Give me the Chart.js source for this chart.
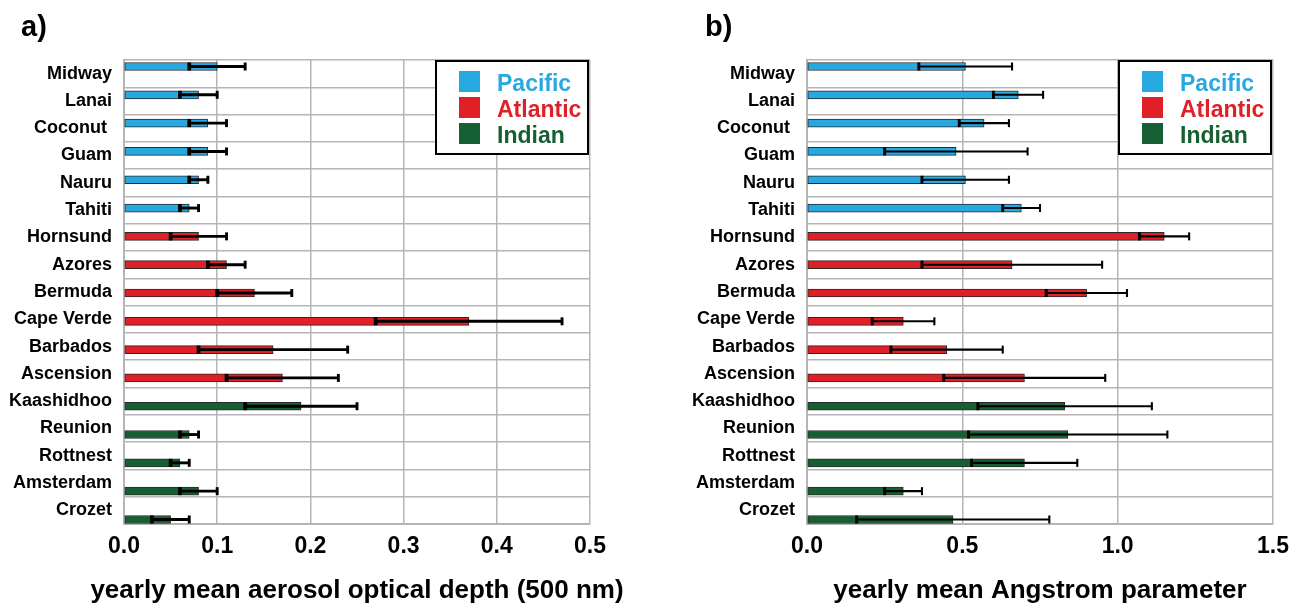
<!DOCTYPE html>
<html>
<head>
<meta charset="utf-8">
<script src="https://cdn.jsdelivr.net/npm/chart.js@4/dist/chart.umd.min.js"></script>
<style>
  html, body { margin: 0; padding: 0; background: #fff; }
  #wrap { position: relative; width: 1301px; height: 604px; }
  .panel { position: absolute; top: 0; height: 604px; }
</style>
</head>
<body>
<div id="wrap">
  <div class="panel" style="left:0;width:650px"><canvas id="aodChart"></canvas></div>
  <div class="panel" style="left:650px;width:651px"><canvas id="angChart"></canvas></div>
</div>
<script>
const stations = ['Midway', 'Lanai', 'Coconut ', 'Guam', 'Nauru', 'Tahiti',
  'Hornsund', 'Azores', 'Bermuda', 'Cape Verde', 'Barbados', 'Ascension',
  'Kaashidhoo', 'Reunion', 'Rottnest', 'Amsterdam', 'Crozet'];
const oceans = ['Pacific', 'Pacific', 'Pacific', 'Pacific', 'Pacific', 'Pacific',
  'Atlantic', 'Atlantic', 'Atlantic', 'Atlantic', 'Atlantic', 'Atlantic',
  'Indian', 'Indian', 'Indian', 'Indian', 'Indian'];

// yearly mean aerosol optical depth (500 nm) with low / high ends of the bars
const aodMean = [0.10, 0.08, 0.09, 0.09, 0.08, 0.07, 0.08, 0.11, 0.14, 0.37, 0.16, 0.17, 0.19, 0.07, 0.06, 0.08, 0.05];
const aodLow  = [0.07, 0.06, 0.07, 0.07, 0.07, 0.06, 0.05, 0.09, 0.10, 0.27, 0.08, 0.11, 0.13, 0.06, 0.05, 0.06, 0.03];
const aodHigh = [0.13, 0.10, 0.11, 0.11, 0.09, 0.08, 0.11, 0.13, 0.18, 0.47, 0.24, 0.23, 0.25, 0.08, 0.07, 0.10, 0.07];

// yearly mean Angstrom parameter
const angMean = [0.51, 0.68, 0.57, 0.48, 0.51, 0.69, 1.15, 0.66, 0.90, 0.31, 0.45, 0.70, 0.83, 0.84, 0.70, 0.31, 0.47];
const angLow  = [0.36, 0.60, 0.49, 0.25, 0.37, 0.63, 1.07, 0.37, 0.77, 0.21, 0.27, 0.44, 0.55, 0.52, 0.53, 0.25, 0.16];
const angHigh = [0.66, 0.76, 0.65, 0.71, 0.65, 0.75, 1.23, 0.95, 1.03, 0.41, 0.63, 0.96, 1.11, 1.16, 0.87, 0.37, 0.78];

const oceanNames = ['Pacific', 'Atlantic', 'Indian'];
const oceanColors = { Pacific: '#27a8e0', Atlantic: '#e01f27', Indian: '#165f32' };

const FONT = "'Liberation Sans', Arial, sans-serif";
const GRID = '#b5b5b5';

// error bars: line from low to high with end caps
const errorBars = {
  id: 'errorBars',
  afterDatasetsDraw(chart, args, opts) {
    const ctx = chart.ctx;
    const xs = chart.scales.x;
    const meta = chart.getDatasetMeta(0);
    ctx.save();
    ctx.strokeStyle = '#000';
    meta.data.forEach((bar, i) => {
      const x1 = xs.getPixelForValue(opts.low[i]);
      const x2 = xs.getPixelForValue(opts.high[i]);
      const y = bar.y;
      ctx.lineWidth = opts.width;
      ctx.beginPath();
      ctx.moveTo(x1, y);
      ctx.lineTo(x2, y);
      ctx.stroke();
      ctx.lineWidth = opts.width + 0.8;
      ctx.beginPath();
      ctx.moveTo(x1, y - 4);
      ctx.lineTo(x1, y + 4);
      ctx.stroke();
      ctx.lineWidth = opts.width;
      ctx.beginPath();
      ctx.moveTo(x2, y - 4);
      ctx.lineTo(x2, y + 4);
      ctx.stroke();
    });
    ctx.restore();
  }
};

// boxed legend in the upper right corner, panel letter and axis title
const boxLegend = {
  id: 'boxLegend',
  afterDraw(chart, args, opts) {
    const ctx = chart.ctx;
    const area = chart.chartArea;
    const bx = area.right - 154, by = area.top + 1, bw = 152, bh = 93;
    ctx.save();
    ctx.fillStyle = '#fff';
    ctx.fillRect(bx, by, bw, bh);
    ctx.strokeStyle = '#000';
    ctx.lineWidth = 2;
    ctx.strokeRect(bx, by, bw, bh);
    ctx.font = 'bold 23px ' + FONT;
    ctx.textBaseline = 'alphabetic';
    oceanNames.forEach((name, k) => {
      ctx.fillStyle = oceanColors[name];
      ctx.fillRect(bx + 23, by + 10 + k * 26, 21, 21);
      ctx.fillText(name, bx + 61, by + 30 + k * 26);
    });
    ctx.fillStyle = '#000';
    ctx.font = 'bold 29px ' + FONT;
    ctx.fillText(opts.letter, opts.letterX, 36);
    ctx.font = 'bold 26px ' + FONT;
    ctx.textAlign = 'center';
    ctx.textBaseline = 'middle';
    ctx.fillText(opts.title, (area.left + area.right) / 2, 591);
    ctx.restore();
  }
};

function makeChart(id, values, low, high, xMax, step, axisTitle, yWidth, padRight, letter, letterX, ebWidth) {
  const ctx = document.getElementById(id).getContext('2d');
  return new Chart(ctx, {
    type: 'bar',
    data: {
      labels: stations,
      datasets: [{
        data: values.map((v, i) => ({ x: v, y: i })),
        yAxisID: 'yb',
        backgroundColor: oceans.map(o => oceanColors[o]),
        borderColor: '#2a2a2a',
        borderWidth: 1,
        borderSkipped: false,
        barThickness: 8
      }]
    },
    options: {
      indexAxis: 'y',
      responsive: true,
      maintainAspectRatio: false,
      animation: false,
      layout: { padding: { top: 60, right: padRight, left: 0, bottom: 0 } },
      plugins: {
        legend: { display: false },
        tooltip: { enabled: false },
        errorBars: { low: low, high: high, width: ebWidth },
        boxLegend: { letter: letter, letterX: letterX, title: axisTitle }
      },
      scales: {
        x: {
          type: 'linear',
          min: 0,
          max: xMax,
          ticks: {
            stepSize: step,
            padding: 9,
            color: '#000',
            font: { family: FONT, size: 23, weight: 'bold' },
            callback: v => v.toFixed(1)
          },
          grid: { color: GRID, lineWidth: 1.5, drawTicks: false },
          border: { color: GRID, width: 2 },
          afterFit: s => { s.height = 80; }
        },
        y: {
          type: 'category',
          labels: stations,
          offset: true,
          ticks: {
            autoSkip: false,
            padding: 12,
            color: '#000',
            font: { family: FONT, size: 18, weight: 'bold' }
          },
          grid: { offset: true, color: GRID, lineWidth: 1.5, drawTicks: false },
          border: { color: GRID, width: 2 },
          afterFit: s => { s.width = yWidth; }
        },
        yb: {
          type: 'linear',
          display: false,
          reverse: true,
          offset: false,
          grace: 0,
          bounds: 'data',
          min: -0.23,
          max: 16.16,
          grid: { offset: false }
        }
      }
    },
    plugins: [errorBars, boxLegend]
  });
}

makeChart('aodChart', aodMean, aodLow, aodHigh, 0.5, 0.1,
  'yearly mean aerosol optical depth (500 nm)', 124, 60, 'a)', 21, 2.9);
makeChart('angChart', angMean, angLow, angHigh, 1.5, 0.5,
  'yearly mean Angstrom parameter', 157, 28, 'b)', 55, 2.1);
</script>
</body>
</html>
